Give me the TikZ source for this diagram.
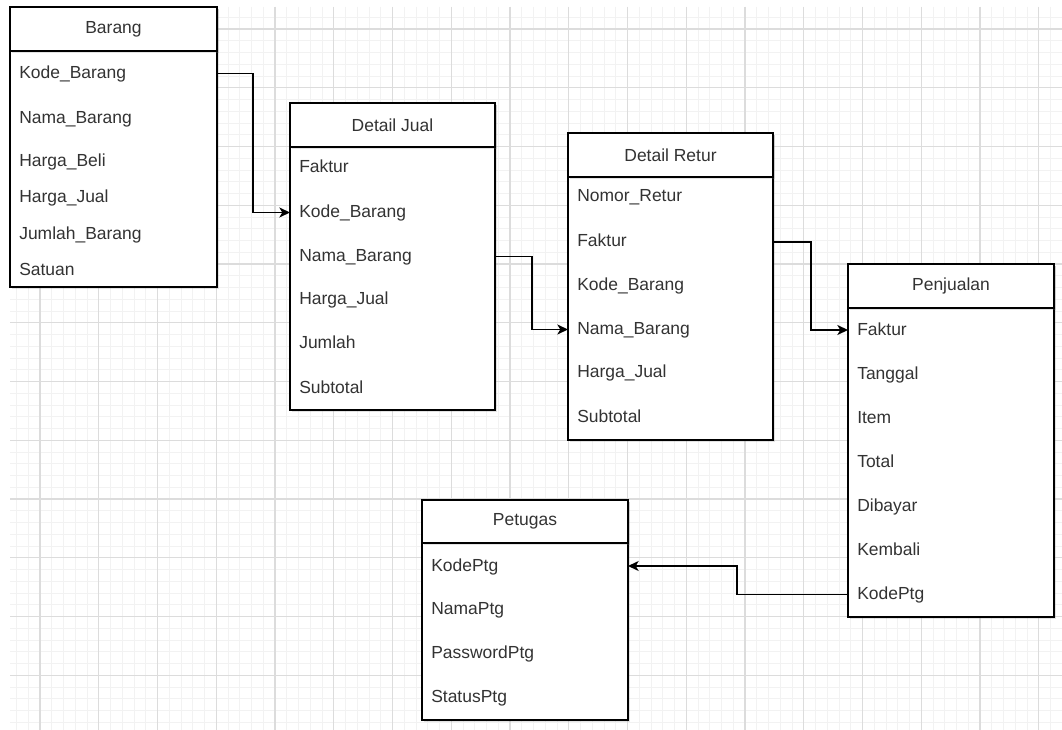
\documentclass[tikz,border=0pt]{standalone}
\usepackage{fontspec}
\setmainfont{Liberation Sans}
\usetikzlibrary{arrows.meta,shadows}
\definecolor{gmajor}{HTML}{DCDCDC}
\definecolor{gminor}{HTML}{F2F2F2}
\definecolor{txt}{HTML}{333333}
\tikzset{
  gminorline/.style={draw=gminor, line width=0.6pt},
  gmajorline/.style={draw=gmajor, line width=0.8pt},
  tblbox/.style={draw=black, fill=white, line width=1.15pt, inner sep=0pt, outer sep=0pt,
    anchor=north west, drop shadow={shadow xshift=1.5pt, shadow yshift=-1.8pt, opacity=0.22}},
  tblhead/.style={tblbox, text=txt},
  rowlbl/.style={anchor=west, inner sep=0pt, text=txt, text height=0.95em, text depth=0.2em},
  conn/.style={draw=black, line width=1.15pt, -{Stealth[length=8pt,width=7.5pt,inset=2.2pt]}},
}
\newcommand\erbox[7]{%
  \node[tblbox, minimum width=#4*0.75pt, minimum height=#5*0.75pt] (#1) at (#2,#3) {};
  \node[tblhead, minimum width=#4*0.75pt, minimum height=#6*0.75pt] (#1h) at (#2,#3) {#7};
}
\begin{document}
\begin{tikzpicture}[x=0.75pt,y=-0.75pt, font=\fontsize{13.1}{15}\selectfont]
\useasboundingbox (0,0) rectangle (1062,730);
\fill[white] (0,0) rectangle (1062,730);
% grid
\begin{scope}
  \clip (10,7) rectangle (1062,730);
  \foreach \k in {-2,...,87} \draw[gminorline] ({40+\k*11.75},7) -- ({40+\k*11.75},730);
  \foreach \k in {-1,...,60} \draw[gminorline] (10,{29+\k*11.75}) -- (1062,{29+\k*11.75});
  \foreach \k in {0,...,17} \draw[gmajorline] ({40+\k*58.75},7) -- ({40+\k*58.75},730);
  \foreach \k in {0,...,12} \draw[gmajorline] (10,{29+\k*58.75}) -- (1062,{29+\k*58.75});
\end{scope}

% tables
\erbox{B}{10}{7}{207}{280}{44}{Barang}
\erbox{J}{290}{103}{205}{307}{44}{Detail Jual}
\erbox{R}{568}{133}{205}{307}{44}{Detail Retur}
\erbox{P}{848}{264}{206}{353}{44}{Penjualan}
\erbox{T}{422}{500}{206}{220}{43}{Petugas}

% rows: Barang
\node[rowlbl] (b1) at (19,73.5) {Kode\_Barang};
\node[rowlbl] (b2) at (19,118.5) {Nama\_Barang};
\node[rowlbl] (b3) at (19,161.5) {Harga\_Beli};
\node[rowlbl] (b4) at (19,197.5) {Harga\_Jual};
\node[rowlbl] (b5) at (19,234.5) {Jumlah\_Barang};
\node[rowlbl] (b6) at (19,270.5) {Satuan};
% Detail Jual
\node[rowlbl] (j1) at (299,168) {Faktur};
\node[rowlbl] (j2) at (299,212.5) {Kode\_Barang};
\node[rowlbl] (j3) at (299,256.5) {Nama\_Barang};
\node[rowlbl] (j4) at (299,300) {Harga\_Jual};
\node[rowlbl] (j5) at (299,344) {Jumlah};
\node[rowlbl] (j6) at (299,388) {Subtotal};
% Detail Retur
\node[rowlbl] (r1) at (577,197) {Nomor\_Retur};
\node[rowlbl] (r2) at (577,242) {Faktur};
\node[rowlbl] (r3) at (577,286) {Kode\_Barang};
\node[rowlbl] (r4) at (577,329.5) {Nama\_Barang};
\node[rowlbl] (r5) at (577,373) {Harga\_Jual};
\node[rowlbl] (r6) at (577,417) {Subtotal};
% Penjualan
\node[rowlbl] (p1) at (857,330) {Faktur};
\node[rowlbl] (p2) at (857,374.5) {Tanggal};
\node[rowlbl] (p3) at (857,418) {Item};
\node[rowlbl] (p4) at (857,462) {Total};
\node[rowlbl] (p5) at (857,506) {Dibayar};
\node[rowlbl] (p6) at (857,550.5) {Kembali};
\node[rowlbl] (p7) at (857,594.5) {KodePtg};
% Petugas
\node[rowlbl] (t1) at (431,566) {KodePtg};
\node[rowlbl] (t2) at (431,609) {NamaPtg};
\node[rowlbl] (t3) at (431,653) {PasswordPtg};
\node[rowlbl] (t4) at (431,697) {StatusPtg};

% connectors
\draw[conn] (b1 -| B.east) -- ++(36,0) |- (j2 -| J.west);
\draw[conn] (j3 -| J.east) -- ++(37,0) |- (r4 -| R.west);
\draw[conn] (r2 -| R.east) -- ++(38,0) |- (p1 -| P.west);
\draw[conn] (p7 -| P.west) -- ++(-111,0) |- (t1 -| T.east);
\end{tikzpicture}
\end{document}
